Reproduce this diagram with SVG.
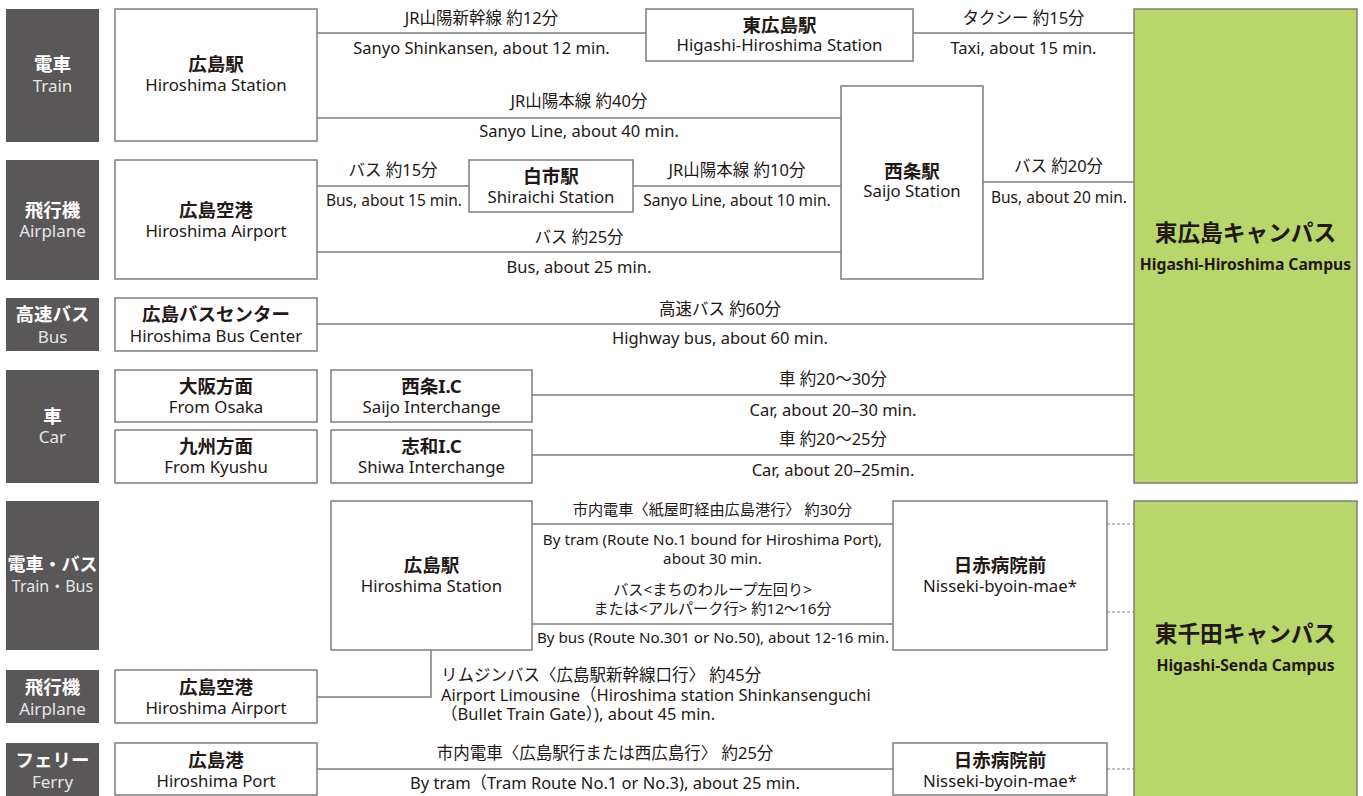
<svg xmlns="http://www.w3.org/2000/svg" width="1363" height="796" viewBox="0 0 1363 796">
<style>
text{font-family:"Noto Sans","Noto Sans CJK JP",sans-serif;fill:#231815;text-anchor:middle}
.cat rect{fill:#595757}
.cat .j{fill:#fff;font-weight:bold;font-size:18.5px}
.cat .e{fill:#e6e6e6;font-size:17px}
.node rect{fill:#fff;stroke:#7d7d7d;stroke-width:1.5}
.node .j{font-weight:bold;font-size:18.5px}
.node .e{font-size:16.8px}
.camp rect{fill:#b8d66c;stroke:#7d7d7d;stroke-width:1.5}
.camp .j{font-weight:bold;font-size:22.7px}
.camp .e{font-weight:bold;font-size:15.7px}
.conn line,.conn polyline{stroke:#7d7d7d;stroke-width:1.5;fill:none}
.conn .dot{stroke-dasharray:3 2;stroke-width:1}
.lbl{font-size:16.5px}
.lbl .s{font-size:15.2px}
.lbl .n{font-size:15.5px}
.lbl .l{text-anchor:start}
</style>

<g id="cat-train" class="cat"><rect x="6" y="9" width="93" height="133"/><text class="j" x="52.5" y="71">電車</text><text class="e" x="52.5" y="92">Train</text></g>
<g id="cat-air1" class="cat"><rect x="6" y="160" width="93" height="120"/><text class="j" x="52.5" y="217">飛行機</text><text class="e" x="52.5" y="237">Airplane</text></g>
<g id="cat-bus" class="cat"><rect x="6" y="298" width="93" height="53"/><text class="j" x="52.5" y="321">高速バス</text><text class="e" x="52.5" y="343">Bus</text></g>
<g id="cat-car" class="cat"><rect x="6" y="370" width="93" height="113"/><text class="j" x="52.5" y="423">車</text><text class="e" x="52.5" y="443">Car</text></g>
<g id="cat-trainbus" class="cat"><rect x="6" y="501" width="93" height="149"/><text class="j" x="52.5" y="571" style="font-size:18px">電車・バス</text><text class="e" x="52.5" y="592" style="font-size:16px">Train・Bus</text></g>
<g id="cat-air2" class="cat"><rect x="6" y="670" width="93" height="53"/><text class="j" x="52.5" y="694">飛行機</text><text class="e" x="52.5" y="715">Airplane</text></g>
<g id="cat-ferry" class="cat"><rect x="6" y="743" width="93" height="53"/><text class="j" x="52.5" y="767">フェリー</text><text class="e" x="52.5" y="788">Ferry</text></g>

<g id="conn" class="conn">
<line x1="317" y1="33" x2="646" y2="33"/>
<line x1="913" y1="33" x2="1134" y2="33"/>
<line x1="317" y1="118" x2="841" y2="118"/>
<line x1="317" y1="186" x2="469" y2="186"/>
<line x1="633" y1="186" x2="841" y2="186"/>
<line x1="317" y1="252" x2="841" y2="252"/>
<line x1="983" y1="182" x2="1134" y2="182"/>
<line x1="317" y1="324" x2="1134" y2="324"/>
<line x1="532" y1="395" x2="1134" y2="395"/>
<line x1="532" y1="455" x2="1134" y2="455"/>
<line x1="532" y1="524" x2="893" y2="524"/>
<line x1="532" y1="624" x2="893" y2="624"/>
<polyline points="431,650 431,697 317,697"/>
<line x1="317" y1="769" x2="893" y2="769"/>
<line class="dot" x1="1107" y1="524" x2="1134" y2="524"/>
<line class="dot" x1="1107" y1="612" x2="1134" y2="612"/>
<line class="dot" x1="1107" y1="769" x2="1134" y2="769"/>
</g>

<g id="labels" class="lbl">
<text x="481.5" y="24">JR山陽新幹線 約12分</text>
<text x="481.5" y="54">Sanyo Shinkansen, about 12 min.</text>
<text x="1023.5" y="24">タクシー 約15分</text>
<text x="1023.5" y="54">Taxi, about 15 min.</text>
<text x="579" y="107">JR山陽本線 約40分</text>
<text x="579" y="137">Sanyo Line, about 40 min.</text>
<text x="393" y="176">バス 約15分</text>
<text class="n" x="394" y="206">Bus, about 15 min.</text>
<text x="737" y="176">JR山陽本線 約10分</text>
<text class="n" x="737" y="206">Sanyo Line, about 10 min.</text>
<text x="1058.5" y="172">バス 約20分</text>
<text class="n" x="1059" y="203">Bus, about 20 min.</text>
<text x="579" y="243">バス 約25分</text>
<text x="579" y="273">Bus, about 25 min.</text>
<text x="720" y="315">高速バス 約60分</text>
<text x="720" y="344">Highway bus, about 60 min.</text>
<text x="833" y="385">車 約20〜30分</text>
<text x="833" y="416">Car, about 20–30 min.</text>
<text x="833" y="445">車 約20〜25分</text>
<text x="833" y="476">Car, about 20–25min.</text>
<text class="s" x="712.5" y="515">市内電車〈紙屋町経由広島港行〉 約30分</text>
<text class="s" x="712.5" y="545">By tram (Route No.1 bound for Hiroshima Port),</text>
<text class="s" x="712.5" y="564">about 30 min.</text>
<text class="s" x="712.5" y="595">バス&lt;まちのわループ左回り&gt;</text>
<text class="s" x="712.5" y="614">または&lt;アルパーク行&gt; 約12〜16分</text>
<text class="s" x="713" y="643">By bus (Route No.301 or No.50), about 12-16 min.</text>
<text class="l" x="441" y="681">リムジンバス〈広島駅新幹線口行〉 約45分</text>
<text class="l" x="441" y="701">Airport Limousine（Hiroshima station Shinkansenguchi</text>
<text class="l" x="441" y="720">（Bullet Train Gate）), about 45 min.</text>
<text x="605" y="759">市内電車〈広島駅行または西広島行〉 約25分</text>
<text x="605" y="789">By tram（Tram Route No.1 or No.3), about 25 min.</text>
</g>

<g id="n-hiroshima-st" class="node"><rect x="115" y="9" width="202" height="132"/><text class="j" x="216" y="71">広島駅</text><text class="e" x="216" y="91">Hiroshima Station</text></g>
<g id="n-airport" class="node"><rect x="115" y="160" width="202" height="119"/><text class="j" x="216" y="217">広島空港</text><text class="e" x="216" y="237">Hiroshima Airport</text></g>
<g id="n-higashi-st" class="node"><rect x="646" y="9" width="267" height="52"/><text class="j" x="779.5" y="32">東広島駅</text><text class="e" x="779.5" y="51">Higashi-Hiroshima Station</text></g>
<g id="n-saijo" class="node"><rect x="841" y="86" width="142" height="193"/><text class="j" x="912" y="178">西条駅</text><text class="e" x="912" y="197">Saijo Station</text></g>
<g id="n-shiraichi" class="node"><rect x="469" y="160" width="164" height="52"/><text class="j" x="551" y="183">白市駅</text><text class="e" x="551" y="203">Shiraichi Station</text></g>
<g id="n-buscenter" class="node"><rect x="115" y="298" width="202" height="53"/><text class="j" x="216" y="321">広島バスセンター</text><text class="e" x="216" y="342">Hiroshima Bus Center</text></g>
<g id="n-osaka" class="node"><rect x="115" y="370" width="202" height="52"/><text class="j" x="216" y="393">大阪方面</text><text class="e" x="216" y="413">From Osaka</text></g>
<g id="n-kyushu" class="node"><rect x="115" y="430" width="202" height="53"/><text class="j" x="216" y="453">九州方面</text><text class="e" x="216" y="473">From Kyushu</text></g>
<g id="n-saijo-ic" class="node"><rect x="331" y="370" width="201" height="52"/><text class="j" x="431.5" y="393">西条I.C</text><text class="e" x="431.5" y="413">Saijo Interchange</text></g>
<g id="n-shiwa-ic" class="node"><rect x="331" y="430" width="201" height="53"/><text class="j" x="431.5" y="453">志和I.C</text><text class="e" x="431.5" y="473">Shiwa Interchange</text></g>
<g id="n-hiroshima-st2" class="node"><rect x="331" y="501" width="201" height="149"/><text class="j" x="431.5" y="572">広島駅</text><text class="e" x="431.5" y="592">Hiroshima Station</text></g>
<g id="n-nisseki1" class="node"><rect x="893" y="501" width="214" height="149"/><text class="j" x="1000" y="572">日赤病院前</text><text class="e" x="1000" y="592">Nisseki-byoin-mae*</text></g>
<g id="n-airport2" class="node"><rect x="115" y="670" width="202" height="53"/><text class="j" x="216" y="694">広島空港</text><text class="e" x="216" y="714">Hiroshima Airport</text></g>
<g id="n-port" class="node"><rect x="115" y="743" width="202" height="52"/><text class="j" x="216" y="767">広島港</text><text class="e" x="216" y="787">Hiroshima Port</text></g>
<g id="n-nisseki2" class="node"><rect x="893" y="743" width="214" height="52"/><text class="j" x="1000" y="767">日赤病院前</text><text class="e" x="1000" y="787">Nisseki-byoin-mae*</text></g>

<g id="campus-hh" class="camp"><rect x="1134" y="9" width="223" height="474"/><text class="j" x="1245.5" y="241">東広島キャンパス</text><text class="e" x="1245.5" y="270">Higashi-Hiroshima Campus</text></g>
<g id="campus-hs" class="camp"><rect x="1134" y="501" width="223" height="296"/><text class="j" x="1245.5" y="642">東千田キャンパス</text><text class="e" x="1245.5" y="671">Higashi-Senda Campus</text></g>
</svg>
